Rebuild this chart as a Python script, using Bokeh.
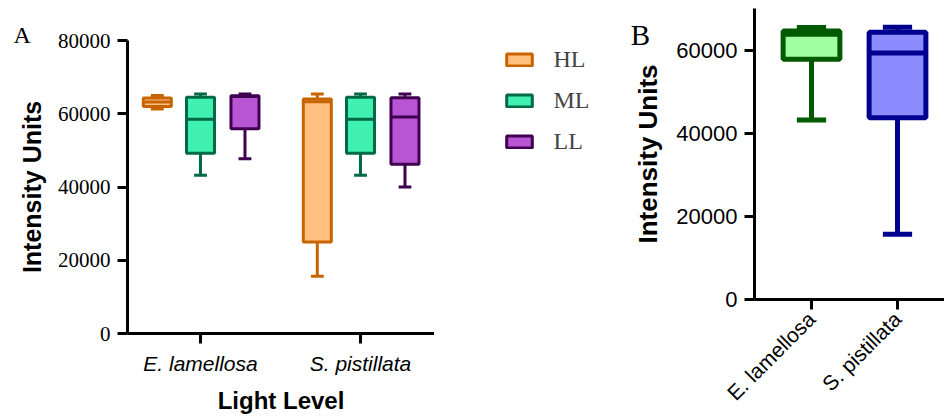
from bokeh.plotting import figure
from bokeh.models import (ColumnDataSource, Range1d, FixedTicker, Legend, LegendItem, Label)
from bokeh.layouts import row, column
from bokeh.embed import file_html
from bokeh.resources import INLINE

# ---------------- data ----------------
categories = ["E. lamellosa", "S. pistillata"]
levels = ["HL", "ML", "LL"]

# five-number summaries per light level (one entry per category)
hl_min = [61300, 15600]
hl_q1 = [62000, 25000]
hl_med = [63200, 63300]
hl_q3 = [64300, 64000]
hl_max = [65000, 65400]

ml_min = [43200, 43200]
ml_q1 = [49200, 49200]
ml_med = [58500, 58500]
ml_q3 = [64500, 64500]
ml_max = [65400, 65400]

ll_min = [47700, 40000]
ll_q1 = [55900, 46200]
ll_med = [64700, 59100]
ll_q3 = [64900, 64400]
ll_max = [65400, 65400]

# panel B: species pooled
b_min = [43200, 15700]
b_q1 = [57800, 43700]
b_med = [63800, 59300]
b_q3 = [64600, 64300]
b_max = [65400, 65500]

a_yticks = [0, 20000, 40000, 60000, 80000]
b_yticks = [0, 20000, 40000, 60000]

# ---------------- styles ----------------
A_FILL = {"HL": "#FFC080", "ML": "#40F0B0", "LL": "#B855D4"}
A_LINE = {"HL": "#C86400", "ML": "#006A47", "LL": "#400050"}
B_FILL = ["#A0FFA0", "#8C8CFF"]
B_LINE = ["#005A00", "#000090"]

SERIF = "Liberation Serif"
SANS = "Liberation Sans"
NAN = float("nan")


def style_axes(p, tick_font, tick_size, ytick_labels):
    for ax in (p.xaxis[0], p.yaxis[0]):
        ax.axis_line_width = 3
        ax.axis_line_color = "black"
        ax.major_tick_line_width = 3
        ax.major_tick_line_color = "black"
        ax.major_tick_out = 10
        ax.major_tick_in = 0
        ax.minor_tick_line_color = None
        ax.axis_label_text_font = SANS
        ax.axis_label_text_font_style = "bold"
        ax.axis_label_text_color = "black"
        ax.major_label_text_color = "black"
    p.yaxis[0].major_label_text_font = tick_font
    p.yaxis[0].major_label_text_font_size = tick_size
    p.yaxis[0].major_label_overrides = {t: str(t) for t in ytick_labels}
    p.xgrid.grid_line_color = None
    p.ygrid.grid_line_color = None
    p.outline_line_color = None


def draw_box(p, src, fill, line, lw):
    p.segment(x0="x", y0="q3", x1="x", y1="mx", source=src, line_color=line, line_width=lw)
    p.segment(x0="x", y0="q1", x1="x", y1="mn", source=src, line_color=line, line_width=lw)
    p.segment(x0="c0", y0="mx", x1="c1", y1="mx", source=src, line_color=line, line_width=lw)
    p.segment(x0="c0", y0="mn", x1="c1", y1="mn", source=src, line_color=line, line_width=lw)
    r = p.vbar(x="x", width="w", bottom="q1", top="q3", source=src,
               fill_color=fill, line_color=line, line_width=lw)
    p.segment(x0="b0", y0="med", x1="b1", y1="med", source=src, line_color=line, line_width=lw)
    return r


# ---------------- panel A ----------------
pA = figure(width=434, height=416, output_backend="svg", toolbar_location=None,
            x_range=Range1d(0.54375, 2.4625), y_range=Range1d(0, 80000),
            min_border_left=127, min_border_right=0, min_border_top=40, min_border_bottom=80,
            title="A")
pA.background_fill_color = "white"
pA.border_fill_color = "white"
pA.title.align = "left"
pA.title.offset = -114
pA.title.standoff = -14
pA.title.text_font = SERIF
pA.title.text_font_size = "24px"
pA.title.text_font_style = "normal"
pA.title.text_color = "black"

offsets = {"HL": -0.27, "ML": 0.0, "LL": 0.278}
bw_a, cw_a = 0.175, 0.08
stats_a = {
    "HL": (hl_min, hl_q1, hl_med, hl_q3, hl_max),
    "ML": (ml_min, ml_q1, ml_med, ml_q3, ml_max),
    "LL": (ll_min, ll_q1, ll_med, ll_q3, ll_max),
}
for lv in levels:
    mn, q1, md, q3, mx = stats_a[lv]
    xs = [i + 1 + offsets[lv] for i in range(len(categories))]
    src = ColumnDataSource(dict(
        x=xs, w=[bw_a] * len(xs), mn=mn, q1=q1, med=md, q3=q3, mx=mx,
        c0=[x - cw_a / 2 for x in xs], c1=[x + cw_a / 2 for x in xs],
        b0=[x - bw_a / 2 for x in xs], b1=[x + bw_a / 2 for x in xs]))
    draw_box(pA, src, A_FILL[lv], A_LINE[lv], 3)

pA.xaxis.ticker = FixedTicker(ticks=[1, 2])
pA.yaxis.ticker = FixedTicker(ticks=a_yticks)
style_axes(pA, SERIF, "21px", a_yticks)
pA.xaxis.major_label_overrides = {i + 1: c for i, c in enumerate(categories)}
pA.xaxis.major_label_text_font = SANS
pA.xaxis.major_label_text_font_style = "italic"
pA.xaxis.major_label_text_font_size = "21px"
pA.xaxis.major_label_standoff = 8
pA.xaxis.axis_label = "Light Level"
pA.xaxis.axis_label_standoff = 9
pA.xaxis.axis_label_text_font_size = "24px"
pA.yaxis.axis_label = "Intensity Units"
pA.yaxis.axis_label_text_font_size = "25px"
pA.yaxis.major_label_standoff = 7
pA.yaxis.axis_label_standoff = 9

# ---------------- middle strip: legend of A and the "B" tag ----------------
# axis-less canvas whose ranges equal page pixels (x right, y down)
pM = figure(width=216, height=416, output_backend="svg", toolbar_location=None, title=None,
            x_range=Range1d(434, 650), y_range=Range1d(416, 0),
            x_axis_location=None, y_axis_location=None, min_border=0)
pM.background_fill_color = None
pM.border_fill_color = None
pM.outline_line_color = None
pM.grid.visible = False

items = []
for lv in levels:
    sw = pM.vbar(x=[NAN], width=1, top=[NAN], bottom=[NAN],
                 fill_color=A_FILL[lv], line_color=A_LINE[lv], line_width=3)
    items.append(LegendItem(label=lv, renderers=[sw]))
legend = Legend(items=items, location=(68.5, 261), padding=0, margin=0,
                border_line_color=None, background_fill_alpha=0,
                glyph_width=32, glyph_height=15, label_standoff=19,
                label_text_font=SERIF, label_text_font_size="24px",
                label_height=24, spacing=14)
pM.add_layout(legend)

pM.add_layout(Label(x=640, y=34, text="B", text_font=SERIF, text_font_size="29px",
                    text_align="center", text_baseline="middle", text_color="black"))

# ---------------- panel B ----------------
pB = figure(width=320, height=416, output_backend="svg", toolbar_location=None,
            x_range=Range1d(0.33721, 2.5465), y_range=Range1d(0, 70000),
            min_border_left=130, min_border_right=0, min_border_top=8, min_border_bottom=117)
pB.background_fill_color = None
pB.border_fill_color = None

bw_b, cw_b = 0.66, 0.34
for i in range(len(categories)):
    x = i + 1
    src = ColumnDataSource(dict(
        x=[x], w=[bw_b], mn=[b_min[i]], q1=[b_q1[i]], med=[b_med[i]], q3=[b_q3[i]], mx=[b_max[i]],
        c0=[x - cw_b / 2], c1=[x + cw_b / 2], b0=[x - bw_b / 2], b1=[x + bw_b / 2]))
    draw_box(pB, src, B_FILL[i], B_LINE[i], 5)

pB.xaxis.ticker = FixedTicker(ticks=[1, 2])
pB.yaxis.ticker = FixedTicker(ticks=b_yticks)
style_axes(pB, SANS, "22px", b_yticks)
pB.xaxis.major_label_overrides = {i + 1: c for i, c in enumerate(categories)}
pB.xaxis.major_label_text_font = SANS
pB.xaxis.major_label_text_font_size = "21px"
pB.xaxis.major_label_orientation = 0.785398
pB.xaxis.major_label_standoff = 6
pB.yaxis.axis_label = "Intensity Units"
pB.yaxis.axis_label_text_font_size = "26px"
pB.yaxis.major_label_standoff = 7
pB.yaxis.axis_label_standoff = 10

layout = row(column(pA), column(pM), column(pB, margin=(0, 0, 0, -26)))
open("out.html", "w").write(file_html(layout, INLINE))
